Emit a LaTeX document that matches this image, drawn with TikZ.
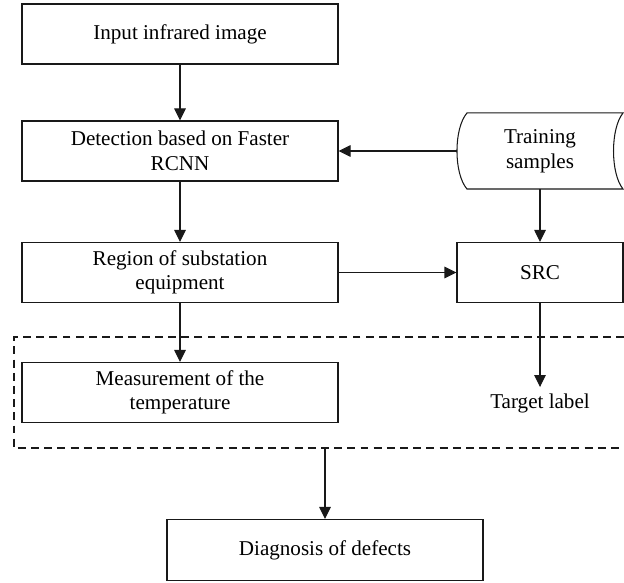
\documentclass[tikz,border=0pt]{standalone}
\usepackage{fontspec}
\setmainfont{Liberation Serif}
\usetikzlibrary{positioning,arrows.meta}

\begin{document}
\begin{tikzpicture}[font=\fontsize{12}{14}\selectfont,line width=0.6pt,
 b/.style={draw=black!90,align=center,minimum height=1.2cm,
 minimum width=6.32cm,inner sep=3pt},
 a/.style={-{Triangle[length=2.4mm,width=2.3mm]},black!90}]
\useasboundingbox (0,0) rectangle (12.48,-11.64);
\node[b] (in) at (3.6,-0.68) {Input infrared image};
\node[b] (det) at (3.6,-3.02) {Detection based on Faster\\RCNN};
\node[b] (reg) at (3.6,-5.45) {Region of substation\\equipment};
\node[b] (meas) at (3.6,-7.85) {Measurement of the\\temperature};
\node[b,minimum width=3.32cm] (src) at (10.8,-5.45) {SRC};
\node[align=center,minimum width=3.3cm,minimum height=1.5cm] (ts) at (10.8,-3.02) {Training\\samples};
\node (tl) at (10.8,-8.06) {Target label};
\node[b,minimum height=1.22cm] (diag) at (6.5,-11.0) {Diagnosis of defects};
% stored data outline
\draw[black!90] ([xshift=0.2cm]ts.north west) -- (ts.north east)
 .. controls ([shift={(-0.254,0.45)}]ts.east) and ([shift={(-0.254,-0.45)}]ts.east) .. (ts.south east)
 -- ([xshift=0.2cm]ts.south west)
 .. controls ([shift={(-0.067,-0.45)}]ts.west) and ([shift={(-0.067,0.45)}]ts.west) .. cycle;
% dashed frame, open to the right
\draw[black!90,dash pattern=on 4.5pt off 3pt] (12.48,-6.74) -| (0.28,-8.96) -- (12.48,-8.96);
\coordinate (fb) at (6.5,-8.96);
\draw[a] (in) -- (det);
\draw[a] (det) -- (reg);
\draw[a] (reg) -- (meas);
\draw[a] (ts.west) -- (det.east);
\draw[a] (ts) -- (src);
\draw[a] (reg) -- (src);
\draw[a] (src) -- (tl);
\draw[a] (fb) -- (diag);
\end{tikzpicture}
\end{document}
